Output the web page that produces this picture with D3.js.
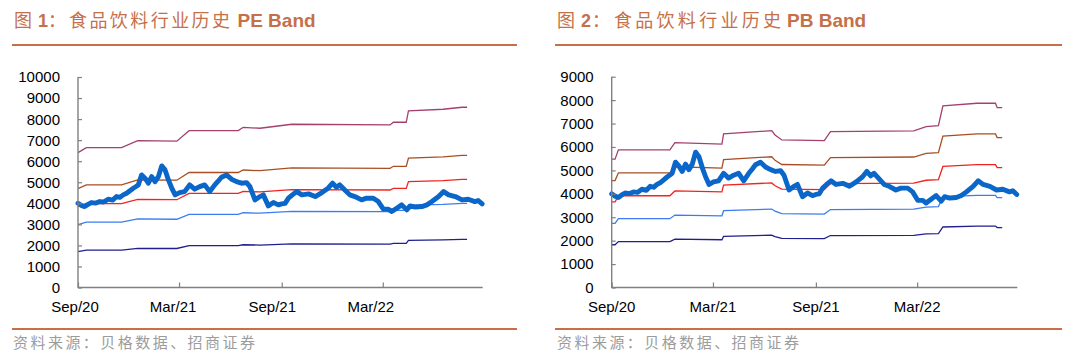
<!DOCTYPE html>
<html>
<head>
<meta charset="utf-8">
<script src="https://cdn.jsdelivr.net/npm/d3@7"></script>
<style>
  html, body { margin: 0; padding: 0; background: #fff; }
  svg { display: block; }
  .cjk { font-family: "Noto Sans CJK SC", sans-serif; }
  .lat { font-family: "Liberation Sans", Arial, sans-serif; }
</style>
</head>
<body>
<svg id="chart" width="1065" height="357"></svg>
<script>
// ---------------- DATA ----------------
const tickDates = ["2020-09-01", "2021-03-01", "2021-09-01", "2022-03-01"];
const tickLabels = ["Sep/20", "Mar/21", "Sep/21", "Mar/22"];
const xDomain = ["2020-09-01", "2022-08-27"];

// Food & beverage index (same series on both charts)
const indexDates = ["2020-09-01","2020-09-07","2020-09-13","2020-09-19","2020-09-25","2020-10-03","2020-10-10","2020-10-17","2020-10-25","2020-11-02","2020-11-09","2020-11-15","2020-11-21","2020-11-27","2020-12-03","2020-12-09","2020-12-14","2020-12-18","2020-12-24","2020-12-30",
"2021-01-05","2021-01-11","2021-01-17","2021-01-23","2021-01-29","2021-02-04","2021-02-10","2021-02-16","2021-02-22","2021-03-02","2021-03-11","2021-03-20","2021-03-29","2021-04-07","2021-04-16","2021-04-25","2021-05-04","2021-05-10","2021-05-16","2021-05-25",
"2021-06-03","2021-06-12","2021-06-21","2021-06-30","2021-07-06","2021-07-15","2021-07-24","2021-07-30","2021-08-08","2021-08-17","2021-08-26","2021-09-01","2021-09-07","2021-09-13","2021-09-20","2021-09-28","2021-10-07","2021-10-19","2021-10-31","2021-11-12",
"2021-11-23","2021-12-01","2021-12-08","2021-12-14","2021-12-23","2022-01-01","2022-01-10","2022-01-22","2022-01-31","2022-02-12","2022-02-21","2022-03-02","2022-03-11","2022-03-17","2022-03-26","2022-04-04","2022-04-13","2022-04-19","2022-04-28","2022-05-10",
"2022-05-19","2022-05-28","2022-06-09","2022-06-18","2022-06-27","2022-07-09","2022-07-21","2022-08-01","2022-08-13","2022-08-19","2022-08-26"];
const indexValues = [4000,3900,3845,3950,4035,4010,4082,4060,4195,4150,4320,4280,4400,4480,4600,4717,4800,4875,5349,5192,
4955,5268,5031,5268,5776,5586,5111,4717,4400,4509,4556,4875,4670,4794,4875,4556,4875,5050,5240,5349,
5145,5031,4955,4983,4794,4162,4320,4400,3877,4035,3925,3972,4000,4243,4400,4556,4400,4447,4320,4509,
4717,4955,4765,4875,4637,4400,4320,4162,4243,4243,4082,3721,3721,3607,3768,3925,3688,3877,3816,3845,
3925,4082,4320,4556,4400,4320,4162,4195,4082,4130,3972];

// PE band (20x / 35x / 45x / 55x / 75x)
const peDates = ["2020-09-01","2020-09-16","2020-11-18","2020-12-17","2021-02-25","2021-03-19","2021-06-15","2021-06-24","2021-07-24","2021-09-19","2022-03-14","2022-03-20","2022-04-12","2022-04-16","2022-06-17","2022-07-21","2022-07-30"];
const pe75 = [6407,6645,6645,6977,6950,7451,7451,7611,7565,7755,7722,7850,7850,8386,8467,8562,8562];
const pe55 = [4699,4873,4873,5117,5097,5464,5464,5581,5548,5687,5663,5757,5757,6150,6209,6279,6279];
const pe45 = [3844,3987,3987,4186,4170,4471,4471,4567,4539,4653,4633,4710,4710,5032,5080,5137,5137];
const pe35 = [2990,3101,3101,3256,3243,3477,3477,3552,3530,3619,3604,3663,3663,3913,3951,3996,3996];
const pe20 = [1709,1772,1772,1861,1853,1987,1987,2030,2017,2068,2059,2093,2093,2236,2258,2283,2283];

// PB band (2x / 3x / 4x / 5x / 6x)
const pbDates = ["2020-09-01","2020-09-07","2020-09-13","2020-12-14","2020-12-23","2021-03-17","2021-03-20","2021-06-14","2021-06-20","2021-07-02","2021-09-16","2021-09-27","2022-02-23","2022-03-17","2022-04-08","2022-04-16","2022-06-16","2022-07-19","2022-07-22","2022-07-31"];
const pb6 = [5478,5478,5875,5875,6186,6118,6557,6698,6514,6301,6271,6656,6685,6869,6911,7752,7867,7867,7680,7680];
const pb5 = [4565,4565,4896,4896,5155,5098,5464,5582,5428,5251,5226,5547,5571,5724,5759,6460,6556,6556,6400,6400];
const pb4 = [3652,3652,3917,3917,4124,4079,4371,4465,4343,4201,4181,4437,4457,4579,4607,5168,5245,5245,5120,5120];
const pb3 = [2739,2739,2938,2938,3093,3059,3279,3349,3257,3150,3136,3328,3342,3434,3456,3876,3933,3933,3840,3840];
const pb2 = [1826,1826,1958,1958,2062,2039,2186,2233,2171,2100,2090,2219,2228,2290,2304,2584,2622,2622,2560,2560];

const peTicks = [0,1000,2000,3000,4000,5000,6000,7000,8000,9000,10000];
const pbTicks = [0,1000,2000,3000,4000,5000,6000,7000,8000,9000];

// ---------------- STYLE ----------------
const bandColors = ["#A3406F", "#A84E22", "#F2231F", "#3C7CF0", "#1F1F8F"];
const indexColor = "#0B66C9";
const accent = "#C6704A";
const parse = d3.timeParse("%Y-%m-%d");
const svg = d3.select("#chart");

function drawChart(cfg) {
  const x = d3.scaleTime().domain(xDomain.map(parse)).range([cfg.left, cfg.right]);
  const y = d3.scaleLinear().domain([0, cfg.yMax]).range([cfg.bottom, cfg.top]);
  const g = svg.append("g");

  // bands
  const line = d3.line().x(d => x(d[0])).y(d => y(d[1]));
  cfg.bands.forEach((vals, i) => {
    const pts = cfg.bandDates.map((d, j) => [parse(d), vals[j]]);
    g.append("path").attr("d", line(pts)).attr("fill", "none")
      .attr("stroke", bandColors[i]).attr("stroke-width", 1.3);
  });

  // index
  const ipts = indexDates.map((d, j) => [parse(d), indexValues[j]]);
  g.append("path").attr("d", line(ipts)).attr("fill", "none")
    .attr("stroke", indexColor).attr("stroke-width", 4.9)
    .attr("stroke-linejoin", "round").attr("stroke-linecap", "round");

  // y axis
  const ya = d3.axisRight(y).tickValues(cfg.yTicks).tickSize(4).tickFormat("");
  const yg = g.append("g").attr("transform", `translate(${cfg.left},0)`).call(ya);
  yg.select(".domain").remove();
  yg.selectAll("line").attr("stroke", "#808080").attr("stroke-width", 1.2);
  g.append("line").attr("x1", cfg.left).attr("x2", cfg.left)
    .attr("y1", y(cfg.yMax)).attr("y2", cfg.bottom + 0.6)
    .attr("stroke", "#808080").attr("stroke-width", 1.4);
  cfg.yTicks.forEach(v => {
    g.append("text").attr("class", "lat").attr("x", cfg.left - 18).attr("y", y(v))
      .attr("dy", "0.36em").attr("text-anchor", "end").attr("font-size", 15)
      .attr("fill", "#000").text(v);
  });

  // x axis
  const xa = d3.axisTop(x).tickValues(tickDates.map(parse)).tickSize(5).tickFormat("");
  const xg = g.append("g").attr("transform", `translate(0,${cfg.bottom})`).call(xa);
  xg.select(".domain").remove();
  xg.selectAll("line").attr("stroke", "#808080").attr("stroke-width", 1.2);
  g.append("line").attr("x1", cfg.left).attr("x2", cfg.right)
    .attr("y1", cfg.bottom).attr("y2", cfg.bottom)
    .attr("stroke", "#808080").attr("stroke-width", 1.4);
  tickDates.forEach((d, i) => {
    g.append("text").attr("class", "lat").attr("x", x(parse(d)) + cfg.labelShift[i])
      .attr("y", 311.5).attr("text-anchor", "middle").attr("font-size", 15)
      .attr("fill", "#000").text(tickLabels[i]);
  });

  // title
  const t = cfg.title;
  svg.append("text").attr("class", "cjk").attr("x", t.x0).attr("y", 27)
    .attr("font-size", 18).attr("fill", accent).text("图");
  svg.append("text").attr("class", "lat").attr("x", t.x1).attr("y", 27)
    .attr("font-size", 18).attr("font-weight", "bold").attr("fill", accent).text(t.num);
  svg.append("text").attr("class", "cjk").attr("x", t.x2).attr("y", 27)
    .attr("font-size", 18).attr("fill", accent).text("：");
  svg.append("text").attr("class", "cjk").attr("x", t.x3).attr("y", 27)
    .attr("font-size", 18).attr("fill", accent)
    .attr("textLength", t.w3).attr("lengthAdjust", "spacing").text("食品饮料行业历史");
  svg.append("text").attr("class", "lat").attr("x", t.x4).attr("y", 27)
    .attr("font-size", 19).attr("font-weight", "bold").attr("fill", accent).text(t.tail);

  // rules
  svg.append("line").attr("x1", cfg.ruleX[0]).attr("x2", cfg.ruleX[1])
    .attr("y1", 45).attr("y2", 45).attr("stroke", accent).attr("stroke-width", 2);
  svg.append("line").attr("x1", cfg.ruleX[0]).attr("x2", cfg.ruleX[1])
    .attr("y1", 329).attr("y2", 329).attr("stroke", accent).attr("stroke-width", 2);

  // source
  svg.append("text").attr("class", "cjk").attr("x", cfg.srcX).attr("y", 348)
    .attr("font-size", 15).attr("fill", "#9C9C9C")
    .attr("textLength", 242).attr("lengthAdjust", "spacing")
    .text("资料来源：贝格数据、招商证券");
}

drawChart({
  left: 78, right: 482.7, top: 77, bottom: 287.5, yMax: 10000, yTicks: peTicks,
  bandDates: peDates, bands: [pe75, pe55, pe45, pe35, pe20],
  labelShift: [-3, -6, -9.5, -12],
  title: { x0: 14, x1: 38, num: "1", x2: 48, x3: 69, w3: 161, x4: 237.5, tail: "PE Band" },
  ruleX: [12, 517], srcX: 13
});

drawChart({
  left: 611.7, right: 1017.3, top: 76.7, bottom: 287.5, yMax: 9000, yTicks: pbTicks,
  bandDates: pbDates, bands: [pb6, pb5, pb4, pb3, pb2],
  labelShift: [0, 0, 0, 0],
  title: { x0: 557, x1: 581, num: "2", x2: 592, x3: 614, w3: 167, x4: 787, tail: "PB Band" },
  ruleX: [555, 1062], srcX: 557
});
</script>
</body>
</html>
